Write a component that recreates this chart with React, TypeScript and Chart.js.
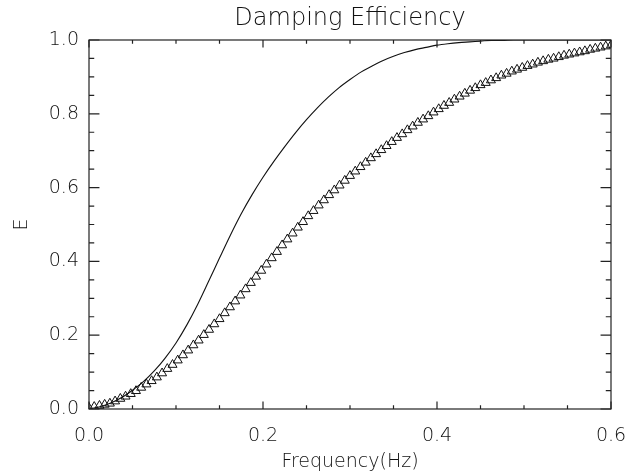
import React, { useEffect, useRef } from 'react';
import { Chart, registerables } from 'chart.js';

Chart.register(...registerables);

const titleText = 'Damping Efficiency';
const xTitleText = 'Frequency(Hz)';
const yTitleText = 'E';

const xMajorTicks = [0.0, 0.2, 0.4, 0.6];
const xMinorTicks = [0.05, 0.1, 0.15, 0.25, 0.3, 0.35, 0.45, 0.5, 0.55];
const yMajorTicks = [0.0, 0.2, 0.4, 0.6, 0.8, 1.0];
const yMinorTicks = [0.05, 0.1, 0.15, 0.25, 0.3, 0.35, 0.45, 0.5, 0.55, 0.65, 0.7, 0.75, 0.85, 0.9, 0.95];

// solid curve
const lineFreq = [
  0, 0.0125, 0.025, 0.0375, 0.05, 0.0625, 0.075, 0.0875, 0.1, 0.1125,
  0.125, 0.1375, 0.15, 0.1625, 0.175, 0.1875, 0.2, 0.2125, 0.225, 0.2375,
  0.25, 0.2625, 0.275, 0.2875, 0.3, 0.3125, 0.325, 0.3375, 0.35, 0.3625,
  0.375, 0.3875, 0.4, 0.4125, 0.425, 0.4375, 0.45, 0.4625, 0.475, 0.4875,
  0.5, 0.5125, 0.525, 0.5375, 0.55, 0.5625, 0.575, 0.5875, 0.6,
];
const lineE = [
  0.0, 0.006, 0.016, 0.031, 0.051, 0.074, 0.103, 0.138, 0.179, 0.228,
  0.284, 0.346, 0.409, 0.471, 0.529, 0.581, 0.628, 0.671, 0.711, 0.749,
  0.784, 0.816, 0.845, 0.871, 0.893, 0.913, 0.929, 0.944, 0.956, 0.966,
  0.974, 0.98, 0.986, 0.99, 0.993, 0.995, 0.997, 0.999, 0.999, 1.0,
  1.0, 1.0, 1.0, 1.0, 1.0, 1.0, 1.0, 1.0, 1.0,
];

// triangle markers
const markerFreq = [
  0, 0.006, 0.012, 0.018, 0.024, 0.03, 0.036, 0.042, 0.048, 0.054,
  0.06, 0.066, 0.072, 0.078, 0.084, 0.09, 0.096, 0.102, 0.108, 0.114,
  0.12, 0.126, 0.132, 0.138, 0.144, 0.15, 0.156, 0.162, 0.168, 0.174,
  0.18, 0.186, 0.192, 0.198, 0.204, 0.21, 0.216, 0.222, 0.228, 0.234,
  0.24, 0.246, 0.252, 0.258, 0.264, 0.27, 0.276, 0.282, 0.288, 0.294,
  0.3, 0.306, 0.312, 0.318, 0.324, 0.33, 0.336, 0.342, 0.348, 0.354,
  0.36, 0.366, 0.372, 0.378, 0.384, 0.39, 0.396, 0.402, 0.408, 0.414,
  0.42, 0.426, 0.432, 0.438, 0.444, 0.45, 0.456, 0.462, 0.468, 0.474,
  0.48, 0.486, 0.492, 0.498, 0.504, 0.51, 0.516, 0.522, 0.528, 0.534,
  0.54, 0.546, 0.552, 0.558, 0.564, 0.57, 0.576, 0.582, 0.588, 0.594,
  0.6,
];
const markerE = [
  0.003, 0.006, 0.009, 0.012, 0.015, 0.021, 0.028, 0.034, 0.041, 0.049,
  0.058, 0.067, 0.076, 0.086, 0.097, 0.109, 0.12, 0.132, 0.146, 0.159,
  0.173, 0.186, 0.201, 0.215, 0.23, 0.244, 0.26, 0.276, 0.292, 0.308,
  0.325, 0.342, 0.359, 0.375, 0.392, 0.409, 0.426, 0.444, 0.46, 0.476,
  0.492, 0.507, 0.523, 0.537, 0.552, 0.566, 0.58, 0.593, 0.606, 0.619,
  0.632, 0.644, 0.656, 0.668, 0.68, 0.691, 0.702, 0.713, 0.724, 0.735,
  0.745, 0.756, 0.766, 0.776, 0.785, 0.794, 0.804, 0.813, 0.822, 0.83,
  0.839, 0.847, 0.855, 0.863, 0.87, 0.878, 0.884, 0.891, 0.897, 0.904,
  0.909, 0.915, 0.92, 0.925, 0.93, 0.934, 0.939, 0.943, 0.947, 0.95,
  0.954, 0.958, 0.961, 0.964, 0.967, 0.97, 0.974, 0.977, 0.98, 0.983,
  0.986,
];

const FONT = "'DejaVu Sans', sans-serif";
const TEXT_WEIGHT = 200;

const framePlugin = {
  id: 'idlFrame',
  afterDatasetsDraw(chart: any) {
    const { ctx, chartArea } = chart;
    const { left, right, top, bottom } = chartArea;
    const xs = chart.scales.x;
    const ys = chart.scales.y;
    const xMaj = 0.02 * (bottom - top);
    const yMaj = 0.02 * (right - left);
    ctx.save();
    ctx.strokeStyle = '#222';
    ctx.lineWidth = 1.2;
    ctx.strokeRect(left, top, right - left, bottom - top);
    ctx.beginPath();
    const xt = (v: number, len: number) => {
      const px = xs.getPixelForValue(v);
      ctx.moveTo(px, bottom);
      ctx.lineTo(px, bottom - len);
      ctx.moveTo(px, top);
      ctx.lineTo(px, top + len);
    };
    const yt = (v: number, len: number) => {
      const py = ys.getPixelForValue(v);
      ctx.moveTo(left, py);
      ctx.lineTo(left + len, py);
      ctx.moveTo(right, py);
      ctx.lineTo(right - len, py);
    };
    xMajorTicks.forEach((v) => xt(v, xMaj));
    xMinorTicks.forEach((v) => xt(v, xMaj / 2));
    yMajorTicks.forEach((v) => yt(v, yMaj));
    yMinorTicks.forEach((v) => yt(v, yMaj / 2));
    ctx.stroke();
    ctx.restore();
  },
};

export default function App() {
  const ref = useRef<HTMLCanvasElement>(null);
  useEffect(() => {
    document.body.style.margin = '0';
    document.body.style.background = '#fff';
    const lineData = lineFreq.map((f, i) => ({ x: f, y: lineE[i] }));
    const markerData = markerFreq.map((f, i) => ({ x: f, y: markerE[i] }));
    const chart = new Chart(ref.current as HTMLCanvasElement, {
      type: 'scatter',
      data: {
        datasets: [
          {
            data: lineData,
            showLine: true,
            borderColor: '#111',
            borderWidth: 1.1,
            pointRadius: 0,
            cubicInterpolationMode: 'monotone',
            clip: 0,
          } as any,
          {
            data: markerData,
            showLine: false,
            pointStyle: 'triangle',
            pointRadius: 5.2,
            borderColor: '#111',
            borderWidth: 1,
            backgroundColor: 'rgba(0,0,0,0)',
            clip: 0,
          } as any,
        ],
      },
      options: {
        animation: false,
        responsive: false,
        devicePixelRatio: 1,
        layout: { autoPadding: false, padding: { left: 0, right: 26, top: 0, bottom: 0 } },
        plugins: {
          legend: { display: false },
          tooltip: { enabled: false },
          title: {
            display: true,
            text: titleText,
            fullSize: false,
            color: '#111',
            font: { family: FONT, size: 24, weight: TEXT_WEIGHT },
            padding: { top: 4, bottom: 7.2 },
          },
        },
        scales: {
          x: {
            type: 'linear',
            min: 0,
            max: 0.6,
            grid: { display: false, drawTicks: false },
            border: { display: false },
            ticks: {
              color: '#111',
              padding: 16,
              font: { family: FONT, size: 19, weight: TEXT_WEIGHT },
              callback: (v: any) => Number(v).toFixed(1),
            },
            title: {
              display: true,
              text: xTitleText,
              color: '#111',
              font: { family: FONT, size: 19, weight: TEXT_WEIGHT },
              padding: { top: 0, bottom: 2 },
            },
            afterBuildTicks: (s: any) => {
              s.ticks = xMajorTicks.map((v) => ({ value: v }));
            },
            afterFit: (s: any) => {
              s.height = 66;
              s.paddingLeft = 0;
              s.paddingRight = 0;
            },
          },
          y: {
            type: 'linear',
            min: 0,
            max: 1,
            grid: { display: false, drawTicks: false },
            border: { display: false },
            ticks: {
              color: '#111',
              padding: 10,
              font: { family: FONT, size: 19, weight: TEXT_WEIGHT },
              callback: (v: any) => Number(v).toFixed(1),
            },
            title: {
              display: true,
              text: yTitleText,
              color: '#111',
              font: { family: FONT, size: 19, weight: TEXT_WEIGHT },
              padding: { top: 10.6, bottom: 0 },
            },
            afterBuildTicks: (s: any) => {
              s.ticks = yMajorTicks.map((v) => ({ value: v }));
            },
            afterFit: (s: any) => {
              s.width = 89;
              s.paddingTop = 0;
              s.paddingBottom = 0;
            },
          },
        },
      } as any,
      plugins: [framePlugin],
    });
    return () => chart.destroy();
  }, []);
  return (
    <div style={{ width: 637, height: 475, background: '#fff' }}>
      <canvas ref={ref} width={637} height={475} style={{ display: 'block' }} />
    </div>
  );
}
